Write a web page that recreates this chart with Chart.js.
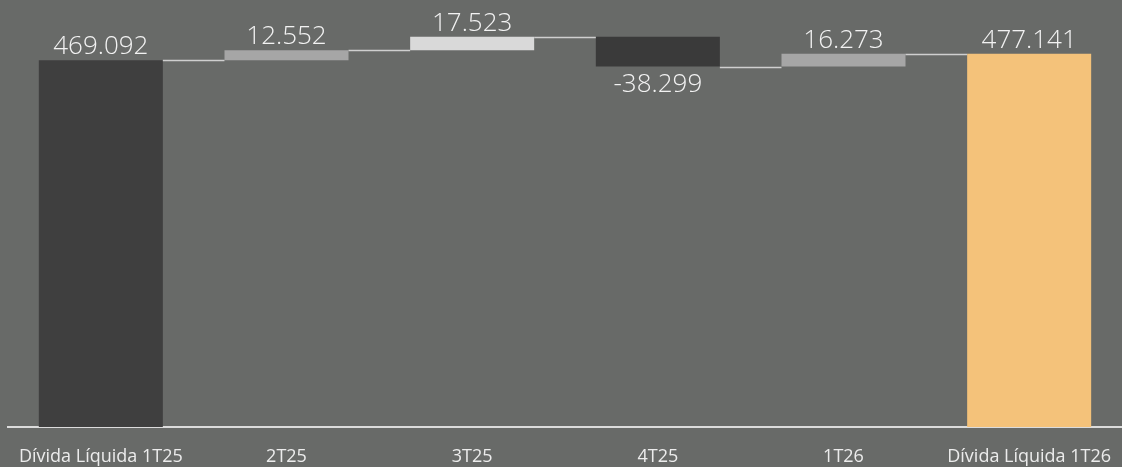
<!DOCTYPE html>
<html><head><meta charset="utf-8">
<script src="https://cdn.jsdelivr.net/npm/chart.js@4.4.0/dist/chart.umd.min.js"></script>
<style>
html,body{margin:0;padding:0;background:#686a68;}
#wrap{width:1122px;height:467px;position:relative;}
</style></head>
<body><div id="wrap"><canvas id="c" width="1122" height="467"></canvas></div>
<script>
const categories = ['Dívida Líquida 1T25','2T25','3T25','4T25','1T26','Dívida Líquida 1T26'];
const startTotal = 469.092;
const changes = [12.552, 17.523, -38.299, 16.273];
const endTotal = 477.141;
const barColors = ['#3f3f3f','#a6a6a6','#d9d9d9','#3a3a3a','#a6a6a6','#f4c27a'];

const ranges = [[0, startTotal]];
let run = startTotal;
for (const c of changes) { ranges.push([run, run + c]); run += c; }
ranges.push([0, endTotal]);
const labelValues = [startTotal, ...changes, endTotal];
const fmt = v => v.toFixed(3);

const FONT = '"Open Sans", sans-serif';

const overlay = {
  id: 'overlay',
  afterDatasetsDraw(chart) {
    const ctx = chart.ctx;
    const meta = chart.getDatasetMeta(0);
    const ys = chart.scales.y;
    ctx.save();
    // connectors
    ctx.strokeStyle = '#cfcfcf';
    ctx.lineWidth = 1.5;
    for (let i = 0; i < meta.data.length - 1; i++) {
      const a = meta.data[i], b = meta.data[i + 1];
      const level = ranges[i][1];
      const y = Math.round(ys.getPixelForValue(level)) + 0.5;
      ctx.beginPath();
      ctx.moveTo(a.x + a.width / 2, y);
      ctx.lineTo(b.x - b.width / 2, y);
      ctx.stroke();
    }
    // value labels
    ctx.fillStyle = '#f2f2f2';
    ctx.font = '300 26px ' + FONT;
    ctx.textAlign = 'center';
    ctx.textBaseline = 'alphabetic';
    meta.data.forEach((el, i) => {
      const v = labelValues[i];
      const top = ys.getPixelForValue(Math.max(ranges[i][0], ranges[i][1]));
      const bot = ys.getPixelForValue(Math.min(ranges[i][0], ranges[i][1]));
      if (v >= 0) ctx.fillText(fmt(v), el.x, top - 6);
      else ctx.fillText(fmt(v), el.x, bot + 25);
    });
    ctx.restore();
  }
};

new Chart(document.getElementById('c'), {
  type: 'bar',
  data: {
    labels: categories,
    datasets: [{
      data: ranges,
      backgroundColor: barColors,
      borderWidth: 0,
      barPercentage: 1,
      categoryPercentage: 0.668
    }]
  },
  options: {
    responsive: false,
    animation: false,
    layout: { padding: { left: 8, right: 0, top: 0, bottom: 0 } },
    plugins: { legend: { display: false }, tooltip: { enabled: false } },
    scales: {
      x: {
        grid: { display: false, drawTicks: false },
        border: { display: true, color: '#dcdcdc', width: 2 },
        ticks: { color: '#ececec', font: { family: FONT, size: 18 }, padding: 19, maxRotation: 0, autoSkip: false },
        afterFit(s) { s.height = 40; s.paddingLeft = 0; s.paddingRight = 0; }
      },
      y: {
        display: false,
        min: 0,
        max: 546
      }
    }
  },
  plugins: [overlay]
});
</script></body></html>
